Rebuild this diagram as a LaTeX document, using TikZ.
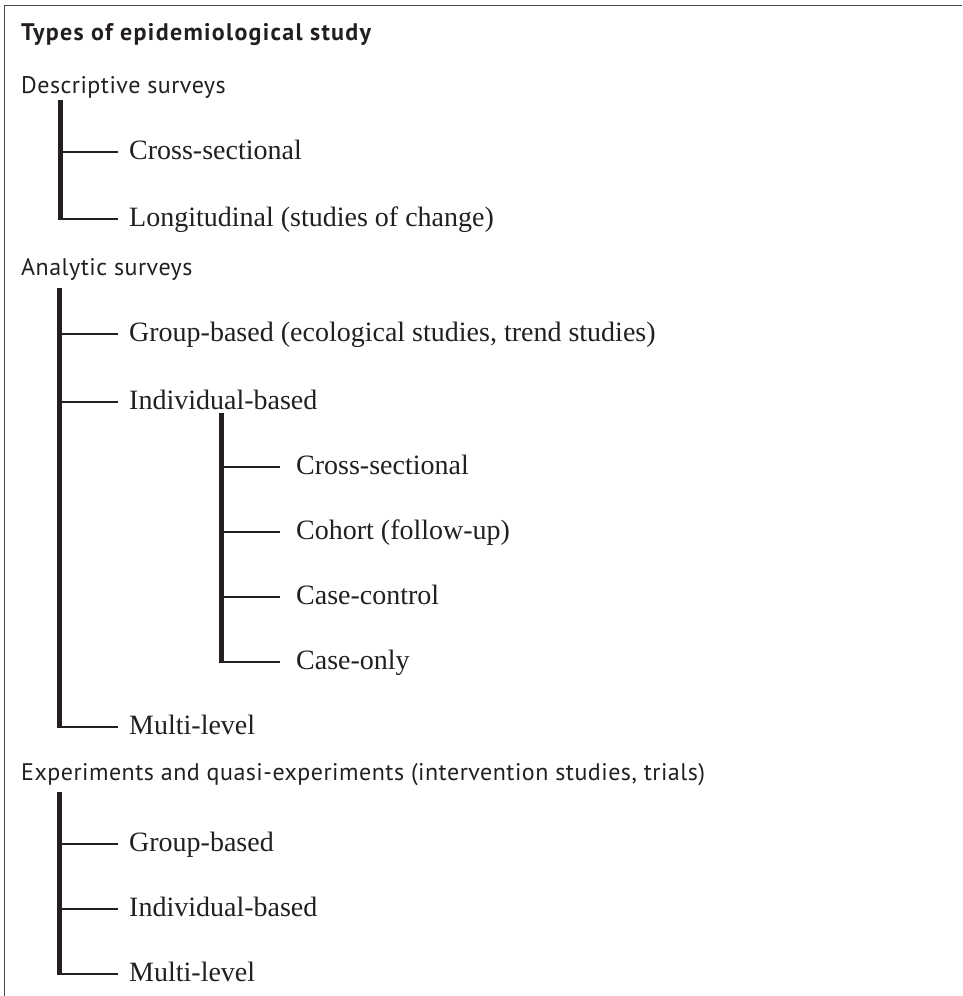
\documentclass[tikz,border=0pt]{standalone}
\usepackage{fontspec}
\setmainfont{Liberation Serif}
\newfontfamily\hdfont[LetterSpace=2]{PT Sans}
\newfontfamily\ttlfont[LetterSpace=5.5]{PT Sans Bold}
\definecolor{ink}{HTML}{231F20}
\definecolor{frame}{HTML}{4A4A4A}
\tikzset{
  titletext/.style={anchor=base west, inner sep=0pt, text=ink, font=\ttlfont\fontsize{24}{28}\selectfont},
  head/.style={anchor=base west, inner sep=0pt, text=ink, font=\hdfont\fontsize{24}{28}\selectfont},
  item/.style={anchor=base west, inner sep=0pt, text=ink, font=\fontsize{28}{32}\selectfont},
  vbar/.style={line width=5pt, draw=ink},
  hbar/.style={line width=2.5pt, draw=ink},
  frameline/.style={line width=1.6pt, draw=frame},
}
\begin{document}
\begin{tikzpicture}[x=1pt,y=-1pt]
\useasboundingbox (0,0) rectangle (962,996);
\draw[frameline] (4.3,996) -- (4.3,5.3) -- (962,5.3);

\node[titletext] (title) at (21,40.5) {Types of epidemiological study};

% Descriptive surveys
\node[head] (desc) at (21,93) {Descriptive surveys};
\coordinate (d0) at (60,100);
\node[item] (d1) at (129,159.5) {Cross-sectional};
\node[item] (d2) at (129,226.5) {Longitudinal (studies of change)};
\coordinate (d1h) at (60,152);
\coordinate (d2h) at (60,219);
\draw[vbar] (d0) -- ([yshift=-1.25pt]d2h);
\draw[hbar] (d1h) -- ([xshift=-11pt]d1.west |- d1h);
\draw[hbar] (d2h) -- ([xshift=-11pt]d2.west |- d2h);

% Analytic surveys
\node[head] (anal) at (21,275) {Analytic surveys};
\coordinate (a0) at (59.5,288);
\node[item] (a1) at (129,341.5) {Group-based (ecological studies, trend studies)};
\node[item] (a2) at (129,409.5) {Individual-based};
\node[item] (a3) at (129,734.5) {Multi-level};
\coordinate (a1h) at (59.5,334);
\coordinate (a2h) at (59.5,402);
\coordinate (a3h) at (59.5,727);
\draw[vbar] (a0) -- ([yshift=-1.25pt]a3h);
\draw[hbar] (a1h) -- ([xshift=-11pt]a1.west |- a1h);
\draw[hbar] (a2h) -- ([xshift=-11pt]a2.west |- a2h);
\draw[hbar] (a3h) -- ([xshift=-11pt]a3.west |- a3h);

% Individual-based sub-items
\coordinate (i0) at (221,413);
\node[item] (i1) at (296,474.5) {Cross-sectional};
\node[item] (i2) at (296,539.5) {Cohort (follow-up)};
\node[item] (i3) at (296,604.5) {Case-control};
\node[item] (i4) at (296,669.5) {Case-only};
\coordinate (i1h) at (221,467);
\coordinate (i2h) at (221,532);
\coordinate (i3h) at (221,597);
\coordinate (i4h) at (221,662);
\draw[vbar] (i0) -- ([yshift=-1.25pt]i4h);
\draw[hbar] (i1h) -- ([xshift=-16pt]i1.west |- i1h);
\draw[hbar] (i2h) -- ([xshift=-16pt]i2.west |- i2h);
\draw[hbar] (i3h) -- ([xshift=-16pt]i3.west |- i3h);
\draw[hbar] (i4h) -- ([xshift=-16pt]i4.west |- i4h);

% Experiments
\node[head] (expt) at (21,780) {Experiments and quasi-experiments (intervention studies, trials)};
\coordinate (e0) at (59.5,792);
\node[item] (e1) at (129,851.5) {Group-based};
\node[item] (e2) at (129,916.5) {Individual-based};
\node[item] (e3) at (129,981.5) {Multi-level};
\coordinate (e1h) at (59.5,844);
\coordinate (e2h) at (59.5,909);
\coordinate (e3h) at (59.5,974);
\draw[vbar] (e0) -- ([yshift=-1.25pt]e3h);
\draw[hbar] (e1h) -- ([xshift=-11pt]e1.west |- e1h);
\draw[hbar] (e2h) -- ([xshift=-11pt]e2.west |- e2h);
\draw[hbar] (e3h) -- ([xshift=-11pt]e3.west |- e3h);
\end{tikzpicture}
\end{document}
